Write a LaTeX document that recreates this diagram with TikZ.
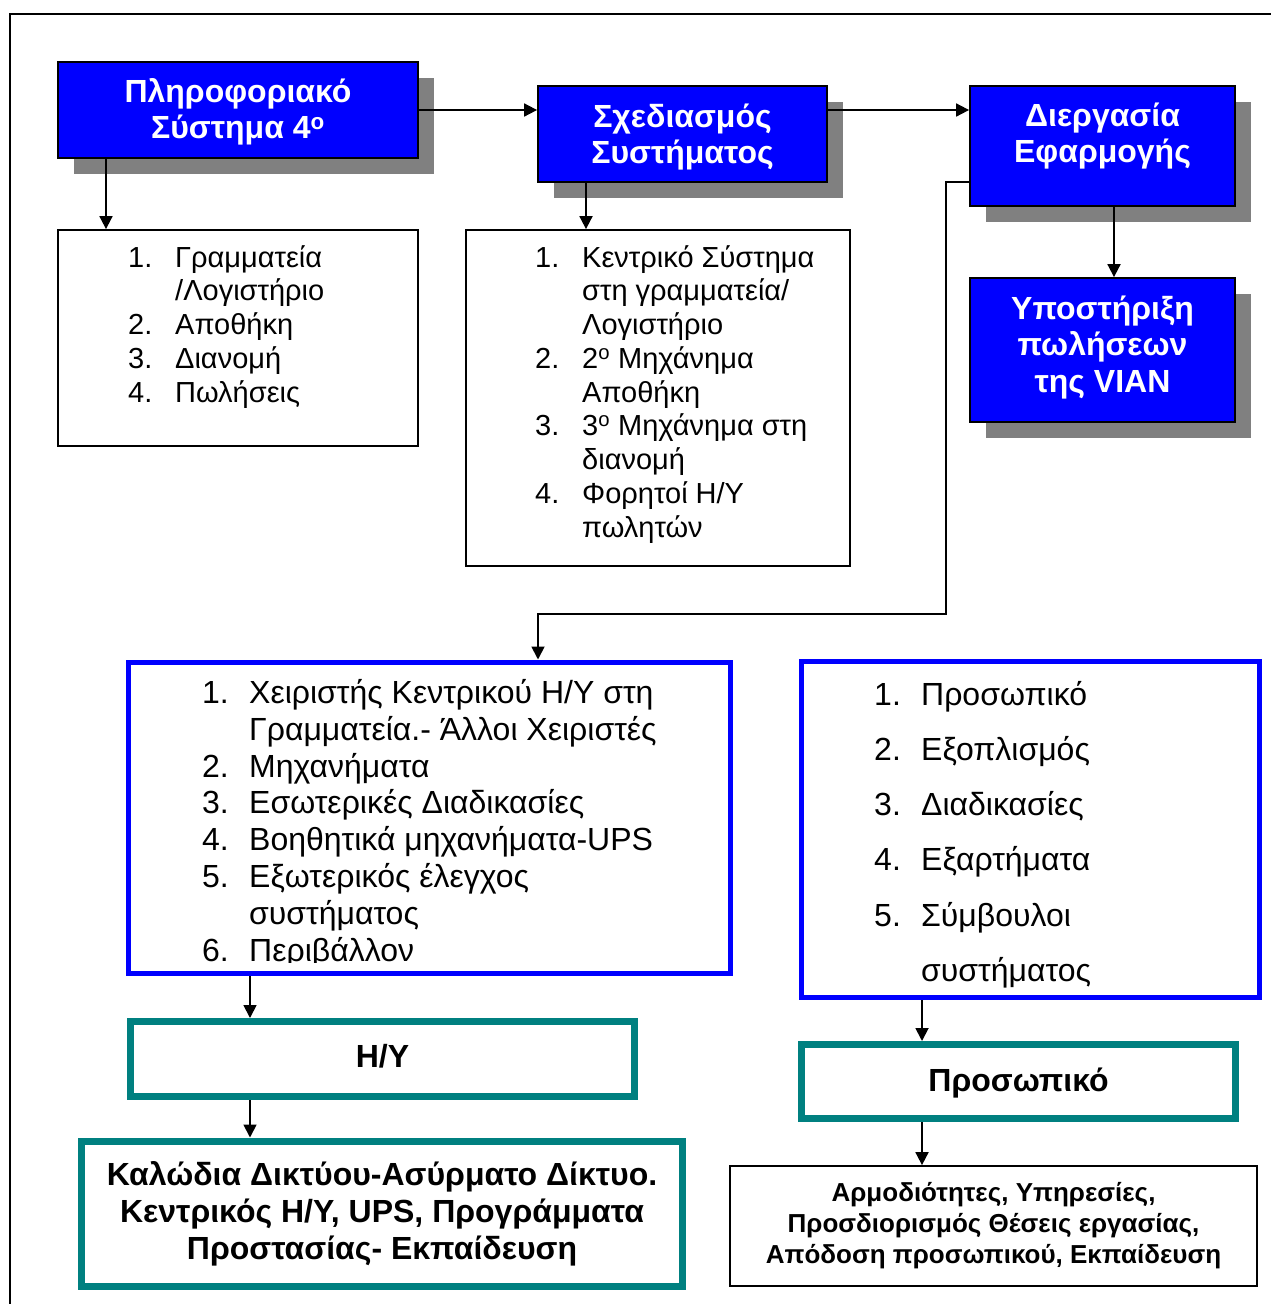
\documentclass[tikz,border=0pt]{standalone}
\usepackage{fontspec}
\setmainfont{Liberation Sans}
\usetikzlibrary{arrows.meta,shadows,calc}

\definecolor{boxblue}{RGB}{0,0,255}
\definecolor{boxteal}{RGB}{0,128,128}
\definecolor{shade}{RGB}{128,128,128}

\newcommand{\fsz}[2]{\fontsize{#1}{#2}\selectfont}
\newlength{\numw}
\setlength{\numw}{47pt}
% numbered item with hanging indent, and a continuation line
\newcommand{\itm}[2]{\makebox[\numw][l]{#1}#2}
\newcommand{\cnt}[1]{\hspace*{\numw}#1}
% fixes the height of the first line so that the top anchor is predictable
\newcommand{\topstrut}{\rule{0pt}{1em}}

\begin{document}
\begin{tikzpicture}[x=1pt,y=-1pt,
  headbox/.style={draw=black, line width=1.8pt, fill=boxblue, anchor=north west, inner sep=0pt,
    drop shadow={shadow xshift=16pt, shadow yshift=-16pt, fill=shade, opacity=1}},
  headtext/.style={anchor=north, inner sep=0pt, align=center, text=white,
    font=\bfseries\fsz{32}{36.6}},
  listbox/.style={draw=black, line width=1.8pt, fill=white, anchor=north west, inner sep=0pt},
  listtext/.style={anchor=north west, inner sep=0pt, align=left},
  bluebox/.style={draw=boxblue, line width=5pt, anchor=north west, inner sep=0pt},
  tealbox/.style={draw=boxteal, line width=7pt, fill=white, anchor=north west, inner sep=0pt},
  thinbox/.style={draw=black, line width=1.8pt, fill=white, anchor=north west, inner sep=0pt},
  conn/.style={line width=1.8pt, -{Triangle[length=13pt,width=13pt]}},
]
\useasboundingbox (0,0) rectangle (1271,1304);
\fill[white] (0,0) rectangle (1271,1304);

% page frame
\coordinate (fb) at (10,1320);
\coordinate (fc) at (10,14);
\coordinate (fr) at (1290,14);
\draw[line width=2pt] (fb) -- (fc) -- (fr);

% blue heading boxes
\node[headbox, minimum width=360pt, minimum height=96pt] (A) at (57.1,61.1) {};
\node[headbox, minimum width=289pt, minimum height=96pt] (B) at (537.1,85.1) {};
\node[headbox, minimum width=265pt, minimum height=120pt] (C) at (969.1,85.1) {};
\node[headbox, minimum width=265pt, minimum height=144pt] (D) at (969.1,277.1) {};

\node[headtext] (At) at (238,70) {\topstrut Πληροφοριακό\\Σύστημα 4\textsuperscript{o}};
\node[headtext] (Bt) at (682.5,95) {\topstrut Σχεδιασμός\\Συστήματος};
\node[headtext] (Ct) at (1102.5,94) {\topstrut Διεργασία\\Εφαρμογής};
\node[headtext] (Dt) at (1102.5,287) {\topstrut Υποστήριξη\\πωλήσεων\\της VIAN};

% plain list boxes
\node[listbox, minimum width=360pt, minimum height=216pt] (L1) at (57.1,229.1) {};
\node[listbox, minimum width=384pt, minimum height=336pt] (L2) at (465.1,229.1) {};

\node[listtext, font=\fsz{29}{33.75}] (L1t) at (128,238) {%
  \topstrut\itm{1.}{Γραμματεία}\\
  \cnt{/Λογιστήριο}\\
  \itm{2.}{Αποθήκη}\\
  \itm{3.}{Διανομή}\\
  \itm{4.}{Πωλήσεις}};

\node[listtext, font=\fsz{29}{33.75}] (L2t) at (535,238) {%
  \topstrut\itm{1.}{Κεντρικό Σύστημα}\\
  \cnt{στη γραμματεία/}\\
  \cnt{Λογιστήριο}\\
  \itm{2.}{2\textsuperscript{o} Μηχάνημα}\\
  \cnt{Αποθήκη}\\
  \itm{3.}{3\textsuperscript{o} Μηχάνημα στη}\\
  \cnt{διανομή}\\
  \itm{4.}{Φορητοί Η/Υ}\\
  \cnt{πωλητών}};

% blue framed lists; the left text runs past its frame's inner edge and is cut there
\node[bluebox, minimum width=601.5pt, minimum height=311.5pt] (E) at (126,659.5) {};
\coordinate (eclip) at (730,962);
\begin{scope}
  \clip (E.north west) rectangle (eclip);
  \node[listtext, font=\fsz{32}{36.9}] (Et) at (202,671) {%
    \topstrut\itm{1.}{Χειριστής Κεντρικού Η/Υ στη}\\
    \cnt{Γραμματεία.- Άλλοι Χειριστές}\\
    \itm{2.}{Μηχανήματα}\\
    \itm{3.}{Εσωτερικές Διαδικασίες}\\
    \itm{4.}{Βοηθητικά μηχανήματα-UPS}\\
    \itm{5.}{Εξωτερικός έλεγχος}\\
    \cnt{συστήματος}\\
    \itm{6.}{Περιβάλλον}};
\end{scope}

\node[bluebox, minimum width=458pt, minimum height=336pt] (F) at (799,659) {};
\node[listtext, font=\fsz{32}{55.2}] (Ft) at (874,673) {%
  \topstrut\itm{1.}{Προσωπικό}\\
  \itm{2.}{Εξοπλισμός}\\
  \itm{3.}{Διαδικασίες}\\
  \itm{4.}{Εξαρτήματα}\\
  \itm{5.}{Σύμβουλοι}\\
  \cnt{συστήματος}};

% teal boxes
\node[tealbox, minimum width=504pt, minimum height=75pt] (G) at (127,1018) {};
\node[anchor=base, inner sep=0pt, font=\bfseries\fsz{32}{36.8}] (Gt) at (382.5,1067.5) {Η/Υ};

\node[tealbox, minimum width=601pt, minimum height=145.5pt] (H) at (78,1137.5) {};
\node[anchor=north, inner sep=0pt, align=center, font=\bfseries\fsz{32}{37.2}] (Ht) at (382,1153) {%
  \topstrut Καλώδια Δικτύου-Ασύρματο Δίκτυο.\\
  Κεντρικός Η/Υ, UPS, Προγράμματα\\
  Προστασίας- Εκπαίδευση};

\node[tealbox, minimum width=434pt, minimum height=74pt] (I) at (798,1041) {};
\node[anchor=base, inner sep=0pt, font=\bfseries\fsz{32}{36.8}] (It) at (1018.5,1091) {Προσωπικό};

\node[thinbox, minimum width=527pt, minimum height=120pt] (J) at (729.1,1165.1) {};
\node[anchor=north, inner sep=0pt, align=center, font=\bfseries\fsz{26}{31}] (Jt) at (993.5,1175) {%
  \topstrut Αρμοδιότητες, Υπηρεσίες,\\
  Προσδιορισμός Θέσεις εργασίας,\\
  Απόδοση προσωπικού, Εκπαίδευση};

% connectors
\coordinate (row) at (0,110);
\draw[conn] (A.east |- row) -- (B.west |- row);
\draw[conn] (B.east |- row) -- (C.west |- row);

\coordinate (xa) at (106,0);
\draw[conn] (A.south -| xa) -- (L1.north -| xa);
\coordinate (xb) at (586,0);
\draw[conn] (B.south -| xb) -- (L2.north -| xb);
\coordinate (xc) at (1114,0);
\draw[conn] (C.south -| xc) -- (D.north -| xc);

\coordinate (cOut) at (946,182);
\coordinate (cDown) at (946,614);
\coordinate (eIn) at (538,614);
\draw[conn] (C.west |- cOut) -- (cOut) -- (cDown) -- (eIn) -- (eIn |- E.north);

\coordinate (xe) at (250,0);
\draw[conn] (E.south -| xe) -- (G.north -| xe);
\draw[conn] (G.south -| xe) -- (H.north -| xe);

\coordinate (xf) at (922,0);
\draw[conn] (F.south -| xf) -- (I.north -| xf);
\draw[conn] (I.south -| xf) -- (J.north -| xf);
\end{tikzpicture}
\end{document}
